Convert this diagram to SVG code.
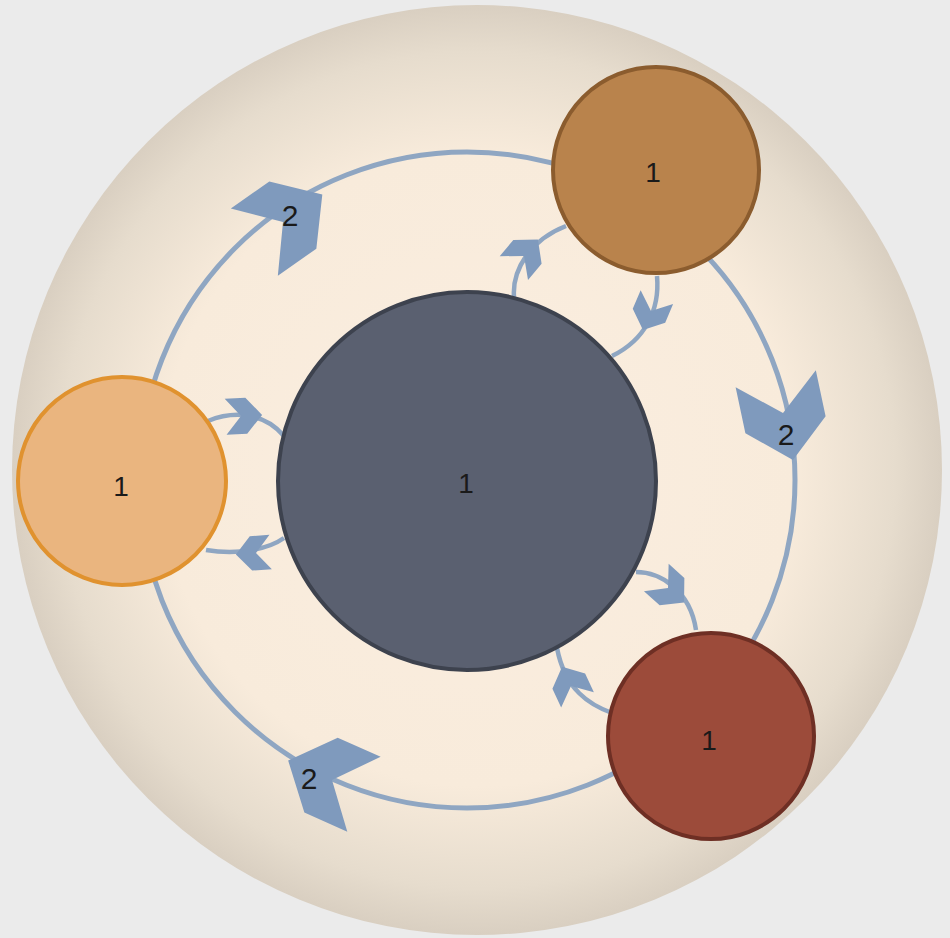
<svg xmlns="http://www.w3.org/2000/svg" xmlns:xlink="http://www.w3.org/1999/xlink" width="950" height="938" viewBox="0 0 950 938">
<defs>
<radialGradient id="bg" cx="477" cy="470" r="465" gradientUnits="userSpaceOnUse">
<stop offset="0" stop-color="#fbeee0"/>
<stop offset="0.68" stop-color="#f8ebdb"/>
<stop offset="0.9" stop-color="#e6dccd"/>
<stop offset="1" stop-color="#d9cfc1"/>
</radialGradient>
<path id="ah" d="M48,0 L12,-41 L-35,-41 L0,0 L-35,41 L12,41 Z"/>
<style>
.ring{fill:none;stroke:#8fa6c2;stroke-width:5}
.sm{fill:none;stroke:#8fa6c2;stroke-width:4.5}
.head{fill:#7f9abd}
.lbl{font-family:"Liberation Sans","DejaVu Sans",sans-serif;fill:#1a1a1a;text-anchor:middle;dominant-baseline:central}
</style>
</defs>
<rect width="950" height="938" fill="#ebebeb"/>
<circle cx="477" cy="470" r="465" fill="url(#bg)"/>
<g id="connectors">
<circle class="ring" cx="467" cy="480" r="328"/>
<use href="#ah" class="head" transform="translate(283,222) rotate(-35)"/>
<use href="#ah" class="head" transform="translate(783,413) rotate(78)"/>
<use href="#ah" class="head" transform="translate(332,780) rotate(204)"/>
<text class="lbl" x="290" y="215" font-size="30">2</text>
<text class="lbl" x="786" y="434" font-size="30">2</text>
<text class="lbl" x="309" y="778" font-size="30">2</text>
<path class="sm" d="M514,297 C512,270 530,240 566,226"/>
<use href="#ah" class="head" transform="translate(524,256) rotate(-50) scale(0.45)"/>
<path class="sm" d="M657,276 C660,310 645,340 612,356"/>
<use href="#ah" class="head" transform="translate(651,311) rotate(113) scale(0.43)"/>
<path class="sm" d="M208,421 C230,412 262,410 284,436"/>
<use href="#ah" class="head" transform="translate(241,416) rotate(-3) scale(0.44)"/>
<path class="sm" d="M284,538 C270,548 240,556 206,550"/>
<use href="#ah" class="head" transform="translate(256,553) rotate(176) scale(0.42)"/>
<path class="sm" d="M636,572 C660,572 690,590 696,630"/>
<use href="#ah" class="head" transform="translate(668,588) rotate(42) scale(0.45)"/>
<path class="sm" d="M612,713 C590,705 565,690 557,648"/>
<use href="#ah" class="head" transform="translate(571,686) rotate(245) scale(0.44)"/>
</g>
<g id="center">
<circle cx="467" cy="481" r="189" fill="#5a6070" stroke="#3d424e" stroke-width="4"/>
<text class="lbl" x="466" y="483" font-size="28">1</text>
</g>
<g id="topRight">
<circle cx="656" cy="170" r="103" fill="#b9834c" stroke="#8b5c2e" stroke-width="4"/>
<text class="lbl" x="653" y="172" font-size="28">1</text>
</g>
<g id="left">
<circle cx="122" cy="481" r="104" fill="#eab57f" stroke="#e0922f" stroke-width="4"/>
<text class="lbl" x="121" y="486" font-size="28">1</text>
</g>
<g id="bottomRight">
<circle cx="711" cy="736" r="103" fill="#9c4b3a" stroke="#6e2f24" stroke-width="4"/>
<text class="lbl" x="709" y="740" font-size="28">1</text>
</g>
</svg>
